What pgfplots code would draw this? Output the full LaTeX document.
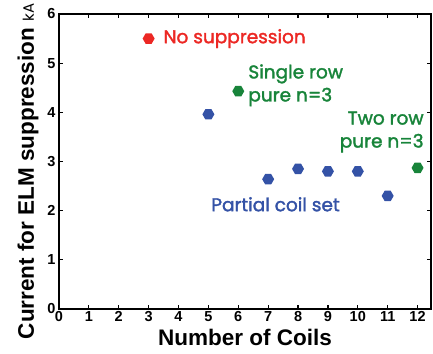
\documentclass[border=0pt]{standalone}
\usepackage{pgfplots}
\pgfplotsset{compat=1.18}
\usepackage{fontspec}
\setmainfont{Liberation Sans}
\newfontfamily\gothic{Poppins}[FakeBold=1.8]
\newfontfamily\gothiclight{Poppins}
\usetikzlibrary{calc}

\definecolor{nored}{RGB}{236,40,36}
\definecolor{partblue}{RGB}{52,82,166}
\definecolor{puregreen}{RGB}{24,132,58}

% hexagonal plot mark (points left and right, flat top and bottom)
\pgfdeclareplotmark{hexagon}{%
  \pgfpathmoveto{\pgfqpointpolar{0}{\pgfplotmarksize}}%
  \pgfpathlineto{\pgfqpointpolar{60}{\pgfplotmarksize}}%
  \pgfpathlineto{\pgfqpointpolar{120}{\pgfplotmarksize}}%
  \pgfpathlineto{\pgfqpointpolar{180}{\pgfplotmarksize}}%
  \pgfpathlineto{\pgfqpointpolar{240}{\pgfplotmarksize}}%
  \pgfpathlineto{\pgfqpointpolar{300}{\pgfplotmarksize}}%
  \pgfpathclose
  \pgfusepathqfill}

\begin{document}
\begin{tikzpicture}
\begin{axis}[
  name=ax,
  scale only axis,
  width=372pt, height=295pt,
  xmin=0, xmax=12.45, ymin=0, ymax=6,
  xtick={0,...,12}, ytick={0,...,6},
  tick align=inside,
  major tick length=4pt,
  axis line style={line width=1.6pt},
  every tick/.style={line width=1.2pt, black},
  /pgf/number format/assume math mode=true,
  tick label style={font=\fontsize{14.5}{14.5}\selectfont\bfseries},
  xticklabel style={yshift=1pt},
  xlabel={\fontsize{22.5}{22.5}\selectfont\bfseries Number of Coils},
  ylabel={\fontsize{22.5}{22.5}\selectfont\bfseries Current for ELM suppression {\gothiclight\mdseries\fontsize{15}{15}\selectfont kA}},
  xlabel style={yshift=-1pt},
  ylabel style={at={(ticklabel cs:0.466)}, yshift=2pt},
  clip=false,
]
% no suppression
\addplot[only marks, mark=hexagon, mark size=6pt, color=nored] coordinates {(3,5.5)};
% partial coil set
\addplot[only marks, mark=hexagon, mark size=6pt, color=partblue] coordinates {
  (5,3.96) (7,2.64) (8,2.85) (9,2.8) (10,2.8) (11,2.3)};
% pure n=3, single and two rows
\addplot[only marks, mark=hexagon, mark size=6pt, color=puregreen] coordinates {
  (6,4.43) (12,2.87)};

\node[anchor=west, text=nored, font=\gothic\fontsize{18.5}{18.5}\selectfont] at (axis cs:3.38,5.5) {No suppression};
\node[anchor=west, text=puregreen, font=\gothic\fontsize{18.5}{23}\selectfont, align=left] at (axis cs:6.22,4.55) {Single row\\pure n=3};
\node[anchor=east, text=puregreen, font=\gothic\fontsize{18.5}{23}\selectfont, align=right] at (axis cs:12.32,3.6) {Two row\\pure n=3};
\node[anchor=west, text=partblue, font=\gothic\fontsize{18.5}{18.5}\selectfont] at (axis cs:4.98,2.13) {Partial coil set};
\end{axis}
\pgfresetboundingbox
\path[use as bounding box] ($(ax.south west)+(-59pt,-45pt)$) rectangle ($(ax.north east)+(2pt,14pt)$);
\end{tikzpicture}
\end{document}
